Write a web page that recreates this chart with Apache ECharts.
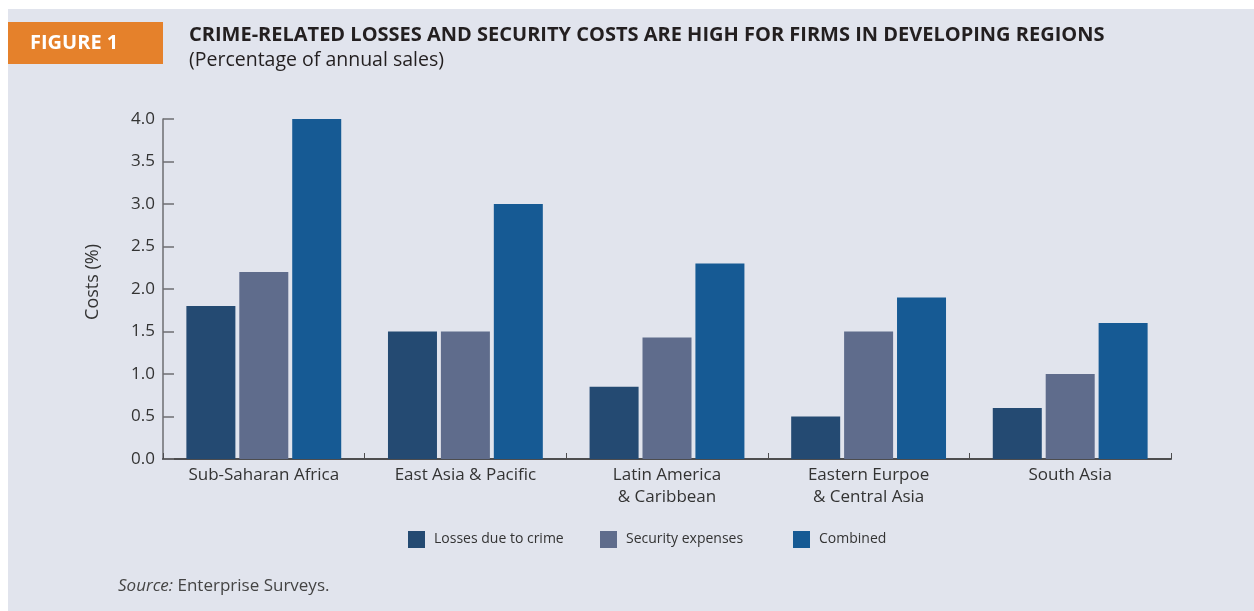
<!DOCTYPE html>
<html>
<head>
<meta charset="utf-8">
<script src="https://cdn.jsdelivr.net/npm/echarts@6/dist/echarts.min.js"></script>
<style>
  html, body { margin: 0; padding: 0; background: #ffffff; }
  #wrap { position: relative; width: 1254px; height: 611px; overflow: hidden; }
  #panel { position: absolute; left: 8px; top: 9px; right: 0; bottom: 0; background: #e1e4ed; }
  #chart { position: absolute; left: 0; top: 0; width: 1254px; height: 611px; }
</style>
</head>
<body>
<div id="wrap">
  <div id="panel"></div>
  <div id="chart"></div>
</div>
<script>
// Regions along the x axis
const regions = [
  'Sub-Saharan Africa',
  'East Asia & Pacific',
  'Latin America\n& Caribbean',
  'Eastern Eurpoe\n& Central Asia',
  'South Asia'
];

// Costs as a percentage of annual sales
const lossesDueToCrime = [1.8, 1.5, 0.85, 0.5, 0.6];
const securityExpenses = [2.2, 1.5, 1.43, 1.5, 1.0];
const combined = [4.0, 3.0, 2.3, 1.9, 1.6];

const seriesNames = ['Losses due to crime', 'Security expenses', 'Combined'];
const seriesColors = ['#244a72', '#5f6c8c', '#165a94'];
const legendLefts = [408, 600, 793];

const FONT = '"Open Sans", "Noto Sans", sans-serif';

const chart = echarts.init(document.getElementById('chart'), null, { renderer: 'canvas' });

const barSeries = [lossesDueToCrime, securityExpenses, combined].map((data, i) => ({
  name: seriesNames[i],
  type: 'bar',
  data: data,
  barWidth: 49,
  barGap: '8%',
  itemStyle: { color: seriesColors[i] },
  emphasis: { disabled: true }
}));

// one legend block per series so each entry sits at its own spot
const legends = seriesNames.map((name, i) => ({
  top: 531,
  left: legendLefts[i],
  padding: 0,
  itemWidth: 17,
  itemHeight: 17,
  icon: 'rect',
  selectedMode: false,
  textStyle: { fontSize: 14, color: '#333333', fontFamily: FONT, padding: [0, 0, 0, 4] },
  data: [name]
}));

chart.setOption({
  backgroundColor: 'transparent',
  animation: false,
  textStyle: { fontFamily: FONT },
  graphic: [
    {
      type: 'rect',
      shape: { x: 8, y: 22, width: 155, height: 42 },
      style: { fill: '#e5812b' }
    },
    {
      type: 'text',
      left: 30, top: 33,
      style: { text: 'FIGURE 1', fill: '#ffffff', font: 'bold 20px ' + FONT }
    },
    {
      type: 'text',
      left: 189, top: 25,
      style: {
        text: 'CRIME-RELATED LOSSES AND SECURITY COSTS ARE HIGH FOR FIRMS IN DEVELOPING REGIONS',
        fill: '#231f20', font: 'bold 20px ' + FONT
      }
    },
    {
      type: 'text',
      left: 189, top: 50,
      style: { text: '(Percentage of annual sales)', fill: '#231f20', font: '19.5px ' + FONT }
    },
    {
      type: 'text',
      x: 93, y: 282,
      rotation: Math.PI / 2,
      style: {
        text: 'Costs (%)', fill: '#333333', font: '18px ' + FONT,
        textAlign: 'center', textVerticalAlign: 'middle'
      }
    },
    {
      type: 'text',
      left: 118, top: 578,
      style: {
        text: '{i|Source:} Enterprise Surveys.',
        fill: '#444444', font: '17px ' + FONT,
        rich: { i: { fontStyle: 'italic', fontSize: 17, fontFamily: FONT, fill: '#444444' } }
      }
    }
  ],
  legend: legends,
  grid: { left: 163, right: 83, top: 119, bottom: 152, containLabel: false },
  xAxis: {
    type: 'category',
    data: regions,
    axisLine: { show: true, lineStyle: { color: '#4d4d4f', width: 2 } },
    axisTick: { show: true, inside: true, length: 6, lineStyle: { color: '#4d4d4f', width: 1 } },
    axisLabel: { color: '#333333', fontSize: 17, margin: 5, lineHeight: 22, fontFamily: FONT, interval: 0 }
  },
  yAxis: {
    type: 'value',
    min: 0, max: 4, interval: 0.5,
    axisLine: { show: true, lineStyle: { color: '#6d6e71', width: 1.5 } },
    axisTick: { show: true, inside: true, length: 11, lineStyle: { color: '#6d6e71', width: 1.5 } },
    splitLine: { show: false },
    axisLabel: {
      color: '#333333', fontSize: 17, margin: 8, fontFamily: FONT,
      formatter: v => v.toFixed(1)
    }
  },
  series: barSeries
});
</script>
</body>
</html>
